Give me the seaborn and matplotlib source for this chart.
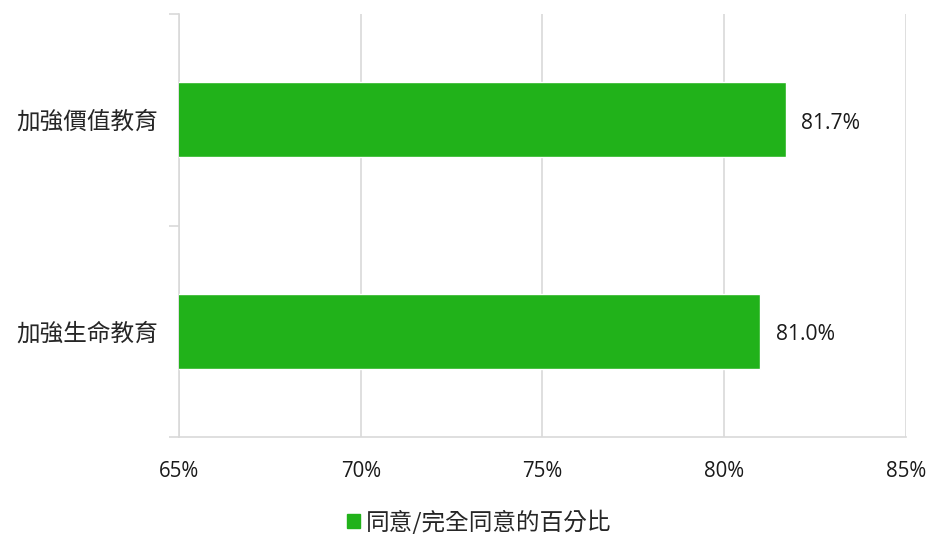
import matplotlib
matplotlib.use("Agg")
import matplotlib.pyplot as plt
import seaborn as sns
import pandas as pd
from matplotlib.patches import Patch

categories = ["加強價值教育", "加強生命教育"]
values = [81.7, 81.0]
value_labels = ["81.7%", "81.0%"]
xticks = [65, 70, 75, 80, 85]
xtick_labels = ["65%", "70%", "75%", "80%", "85%"]
legend_label = "同意/完全同意的百分比"

sns.set_theme(style="white")
plt.rcParams['font.family'] = ['Noto Sans CJK TC', 'DejaVu Sans']

df = pd.DataFrame({"cat": categories, "val": values})

fig = plt.figure(figsize=(9.3, 5.34), dpi=100)
ax = fig.add_axes([0.1925, 0.1816, 0.974 - 0.1925, 0.9738 - 0.1816])

color = "#21B21A"
sns.barplot(data=df, y="cat", x="val", orient="h", color=color, width=0.355,
            saturation=1, ax=ax, zorder=3)

num_font = ['Open Sans', 'DejaVu Sans']

ax.set_xlim(65, 85)
ax.set_ylim(1.5, -0.5)
ax.set_xticks(xticks)
ax.set_xticklabels(xtick_labels, fontsize=14.8, color="#1a1a1a", family=num_font)
ax.tick_params(axis="x", length=0, pad=17)
ax.set_yticks([-0.5, 0.5, 1.5], minor=True)
ax.tick_params(axis="y", which="major", length=0, labelsize=17, pad=15, labelcolor="#262626")
ax.tick_params(axis="y", which="minor", length=7, color="#d9d9d9", width=1.2, left=True)
ax.set_xlabel("")
ax.set_ylabel("")
ax.grid(axis="x", color="#d9d9d9", linewidth=1.2, zorder=0)
for s in ["top", "right"]:
    ax.spines[s].set_visible(False)
for s in ["left", "bottom"]:
    ax.spines[s].set_color("#d9d9d9")
    ax.spines[s].set_linewidth(1.2)

for i, (v, lab) in enumerate(zip(values, value_labels)):
    ax.annotate(lab, xy=(v, i), xytext=(11, -2.5), textcoords="offset points",
                va="center", ha="left", fontsize=15.2, color="#1a1a1a",
                family=num_font)

fig.legend(handles=[Patch(color=color)], labels=[legend_label], loc="center",
           bbox_to_anchor=(0.515, 0.022), frameon=False, fontsize=17,
           handlelength=0.55, handleheight=0.55, handletextpad=0.25,
           labelcolor="#262626")

fig.savefig("out.png", dpi=100)
